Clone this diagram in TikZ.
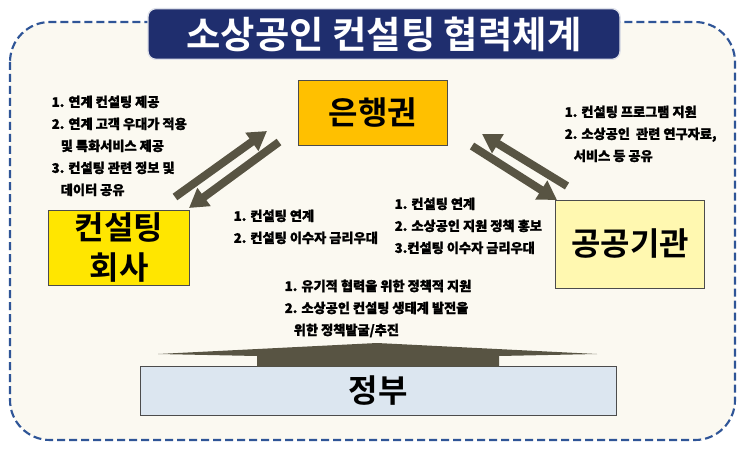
\documentclass[tikz,border=0pt]{standalone}
\usepackage{fontspec}
\setmainfont{Noto Sans CJK KR}[BoldFont={Noto Sans CJK KR Bold}]
\newfontfamily\notefont{Noto Sans CJK KR}[FakeBold=1.2]
\usetikzlibrary{arrows.meta}
\begin{document}
\begin{tikzpicture}[x=0.75pt,y=-0.75pt,
  box/.style={draw=black!70,line width=0.6pt,font=\fontsize{24}{26}\selectfont\bfseries,align=center,inner sep=0pt},
  note/.style={anchor=north west,align=left,font=\notefont\bfseries\fontsize{9.9}{16.5}\selectfont},
  arr/.style={draw=arrc,line width=6pt,-{Triangle[length=14pt,width=16pt]}}]
\definecolor{arrc}{HTML}{585443}
\definecolor{navy}{HTML}{1F2E6E}
\useasboundingbox (0,0) rectangle (745,449);
\fill[white] (0,0) rectangle (745,449);
\draw[draw={rgb,255:red,47;green,85;blue,151},fill={rgb,255:red,251;green,249;blue,241},line width=1.6pt,dash pattern=on 6pt off 3pt,rounded corners=30pt] (10,22) rectangle (735,440);
\node[draw=white!85!navy,line width=1pt,fill=navy,rounded corners=6pt,minimum width=354pt,minimum height=38pt,text=white,font=\fontsize{28}{30}\selectfont\bfseries] (title) at (384,34) {소상공인 컨설팅 협력체계};
\node[box,fill={rgb,255:red,255;green,192;blue,0},minimum width=112pt,minimum height=49pt] (bank) at (373,113) {은행권};
\node[box,fill={rgb,255:red,255;green,230;blue,0},minimum width=106pt,minimum height=56pt,font=\fontsize{24}{30}\selectfont\bfseries] (cons) at (119,248) {컨설팅\\회사};
\node[box,fill={rgb,255:red,255;green,248;blue,176},minimum width=112pt,minimum height=66pt] (pub) at (630,244) {공공기관};
\node[box,fill={rgb,255:red,220;green,230;blue,240},minimum width=357pt,minimum height=37pt] (gov) at (378,391) {정부};
\fill[arrc] (257,366.5) -- (257,356) -- (158,354) -- (377,343) -- (597,354) -- (499,356) -- (499,366.5) -- cycle;
\coordinate (a1) at (175,197); \coordinate (a2) at (267,131);
\coordinate (b1) at (279,142); \coordinate (b2) at (189,208);
\coordinate (c1) at (567,186); \coordinate (c2) at (482,134);
\coordinate (d1) at (472,146); \coordinate (d2) at (557,200);
\draw[arr] (a1) -- (a2);
\draw[arr] (b1) -- (b2);
\draw[arr] (c1) -- (c2);
\draw[arr] (d1) -- (d2);
\node[note] (n1) at (47,91) {1. 연계 컨설팅 제공\\2. 연계 고객 우대가 적용\\\ \ \ 및 특화서비스 제공\\3. 컨설팅 관련 정보 및\\\ \ \ 데이터 공유};
\node[note] (n2) at (560,101) {1. 컨설팅 프로그램 지원\\2. 소상공인\ \ 관련 연구자료,\\\ \ \ 서비스 등 공유};
\node[note] (n3) at (229,205) {1. 컨설팅 연계\\2. 컨설팅 이수자 금리우대};
\node[note] (n4) at (390,193) {1. 컨설팅 연계\\2. 소상공인 지원 정책 홍보\\3.컨설팅 이수자 금리우대};
\node[note] (n5) at (280,275) {1. 유기적 협력을 위한 정책적 지원\\2. 소상공인 컨설팅 생태계 발전을\\\ \ \ 위한 정책발굴/추진};
\end{tikzpicture}
\end{document}
